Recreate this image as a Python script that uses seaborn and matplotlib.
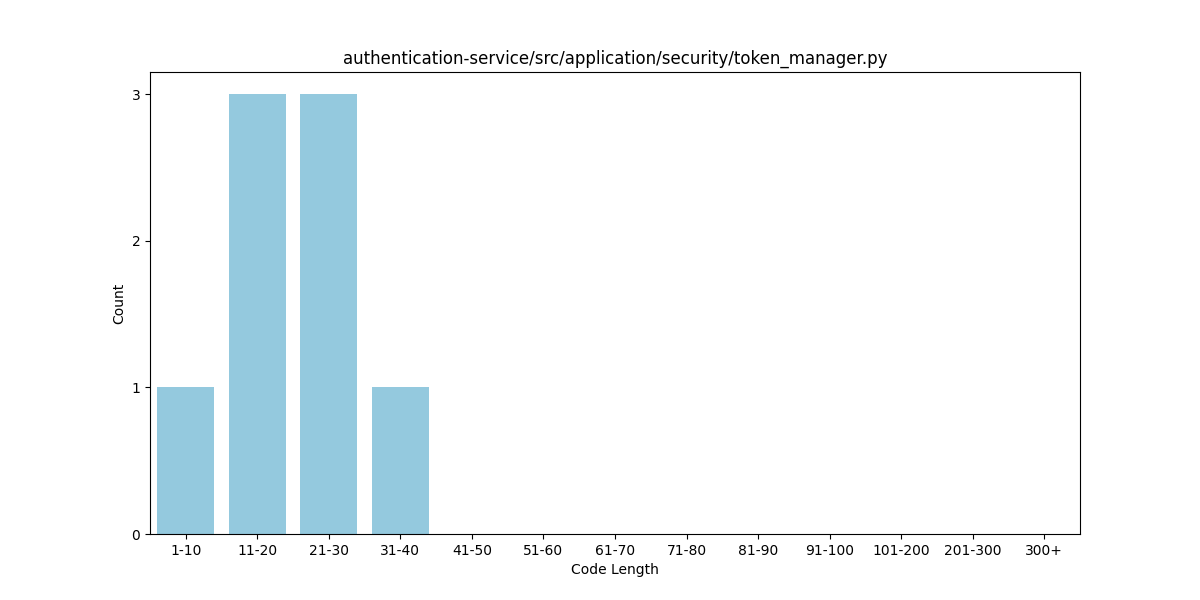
import matplotlib
matplotlib.use("Agg")
import matplotlib.pyplot as plt
import seaborn as sns
import pandas as pd
from matplotlib.ticker import MaxNLocator

# Distribuição de comprimentos de código
faixas = ['1-10', '11-20', '21-30', '31-40', '41-50', '51-60', '61-70',
          '71-80', '81-90', '91-100', '101-200', '201-300', '300+']
contagens = [1, 3, 3, 1, 0, 0, 0, 0, 0, 0, 0, 0, 0]

df = pd.DataFrame({'Code Length': faixas, 'Count': contagens})

fig, ax = plt.subplots(figsize=(12, 6))
sns.barplot(data=df, x='Code Length', y='Count', color='skyblue', ax=ax)
ax.set_title('authentication-service/src/application/security/token_manager.py')
ax.set_xlabel('Code Length')
ax.set_ylabel('Count')
ax.yaxis.set_major_locator(MaxNLocator(integer=True))
plt.savefig('out.png', dpi=100)
